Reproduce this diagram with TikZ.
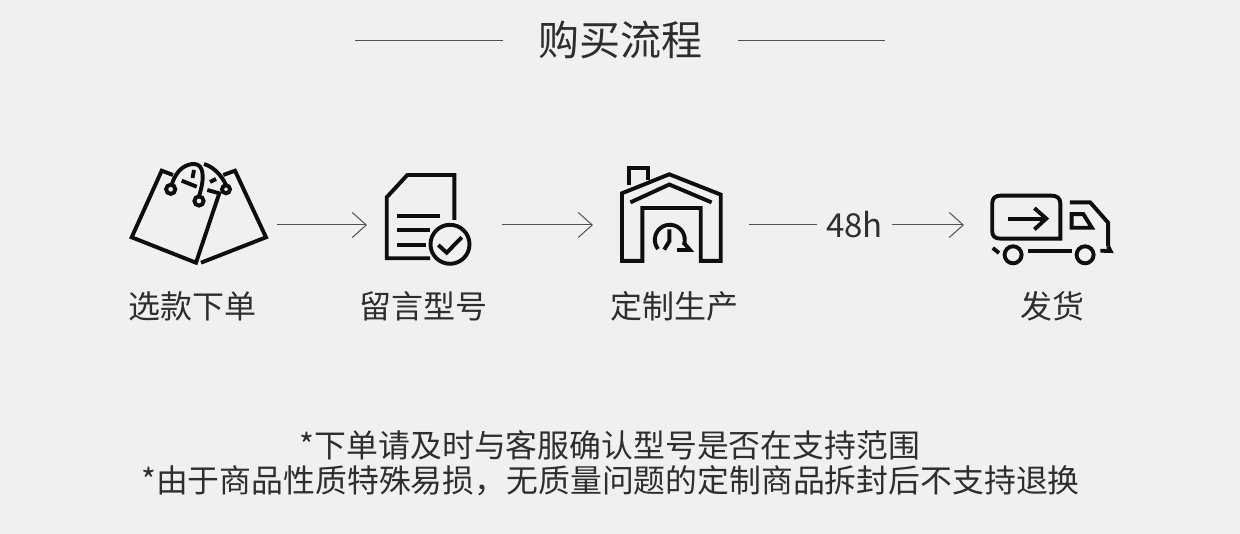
\documentclass[tikz,border=0pt]{standalone}
\usepackage{fontspec}
\setmainfont{Noto Sans CJK SC}
\usetikzlibrary{arrows.meta}
\definecolor{paper}{HTML}{F0F0F0}
\definecolor{ink}{HTML}{0E0E0E}
\definecolor{textgrey}{HTML}{2E2E2E}
\definecolor{rulegrey}{HTML}{505050}
\tikzset{
    iconspot/.style={minimum width=#1,minimum height=2pt,inner sep=0pt,outer sep=0pt},
    iconline/.style={draw=ink,line width=3.9pt,line join=miter},
    flow/.style={draw=rulegrey,line width=1pt,-{Straight Barb[length=14pt,width=25pt,line width=1pt]}},
    rule/.style={draw=rulegrey,line width=1pt},
    steplabel/.style={text=textgrey,font=\fontsize{32}{38}\selectfont,inner sep=0pt},
    notelabel/.style={text=textgrey,font=\fontsize{31.85}{38}\selectfont,inner sep=0pt},
}
\begin{document}
\begin{tikzpicture}[x=1pt,y=-1pt]
    \useasboundingbox[fill=paper] (0,0) rectangle (1240,534);

    \node[text=textgrey,font=\fontsize{41}{48}\selectfont,inner sep=0pt,minimum width=234pt] at (620.5,40) (title) {购买流程};
    \coordinate (ruleL) at (355,41);
    \coordinate (ruleR) at (885,41);
    \draw[rule] (ruleL) -- (title.west |- ruleL);
    \draw[rule] (title.east |- ruleR) -- (ruleR);

    \node[iconspot=158pt] at (198,225) (bag) {};
    \node[iconspot=135pt] at (434.5,225) (doc) {};
    \node[iconspot=156pt] at (671,225) (factory) {};
    \node[iconspot=176pt] at (1052,225) (truck) {};
    \node[text=textgrey,font=\fontsize{33}{38}\selectfont,inner sep=0pt,minimum width=75pt] at (854.5,225) (hours) {48h};

    \draw[flow] (bag) -- (doc);
    \draw[flow] (doc) -- (factory);
    \draw[rule] (factory) -- (hours);
    \draw[flow] (hours) -- (truck);

    \draw[iconline] (173,175) -- (161.7,170.7) -- (131.7,237.3) -- (196,262.7) -- (219.3,193.3) -- (207.3,190);
    \draw[iconline] (181.7,180.7) -- (196.7,186.7);
    \draw[iconline] (223.3,175) -- (235,170.7) -- (266,237.3) -- (201,262.7);
    \draw[iconline] (172,184) .. controls (177,168) and (187,164) .. (194,164) .. controls (204,164) and (205,178) .. (199,196);
    \draw[iconline] (204,164) .. controls (214,167) and (222,176) .. (226,185);
    \draw[iconline] (194,170) -- (192.5,178);
    \draw[iconline] (210,182) -- (216,179);
    \draw[iconline] (170.7,189.3) circle (4.6);
    \draw[iconline] (199,201) circle (4.6);
    \draw[iconline] (226,189.3) circle (4);

    \draw[iconline] (454.3,220) -- (454.3,175) -- (407.3,175) -- (386.7,197.3) -- (386.7,258.3) -- (430,258.3);
    \draw[iconline] (396.7,215.7) -- (440,215.7);
    \draw[iconline] (396.7,230) -- (430,230);
    \draw[iconline] (396.7,245) -- (426,245);
    \draw[iconline] (450,244.3) circle (19.5);
    \draw[iconline] (438.3,245) -- (446.7,252.7) -- (461.7,237.3);

    \draw[iconline] (628.7,185.5) -- (628.7,167.6) -- (648,167.6) -- (648,180.4);
    \draw[iconline] (622,193.3) -- (669.3,174.3) -- (720.7,194.6) -- (720.7,260.9) -- (700.7,260.9) -- (700.7,208) -- (642.3,208) -- (642.3,260.9) -- (622,260.9) -- cycle;
    \draw[iconline] (630.4,202.4) -- (669.3,184.5) -- (711.6,202.4);
    \draw[iconline] (658,249) arc (142:380:15);
    \draw[iconline] (669.3,229.4) -- (669.3,241.3) -- (664.2,249.7);
    \draw[iconline] (677,250) -- (690,250) -- (684,243);

    \draw[iconline] (1060.4,238.6) -- (1000,238.6) .. controls (995,238.6) and (992.2,236) .. (992.2,231) -- (992.2,204) .. controls (992.2,198) and (995,195.6) .. (1001,195.6) -- (1051,195.6) .. controls (1057,195.6) and (1060.4,198) .. (1060.4,204) -- cycle;
    \draw[iconline] (1008,218.6) -- (1046.2,218.6);
    \draw[iconline] (1034.4,208.1) -- (1046.2,218.6) -- (1034.4,229.4);
    \draw[iconline] (1069.9,202.4) -- (1090.2,202.4) -- (1108.1,222.7) -- (1108.1,246.3);
    \draw[iconline] (1108.1,246.3) -- (1110.5,251) -- (1100.3,250.7);
    \draw[iconline] (1071.6,214.2) -- (1083.4,214.2) -- (1091.9,227.8) -- (1071.6,227.8) -- cycle;
    \draw[iconline] (1013.1,254.8) circle (8.5);
    \draw[iconline] (1085.1,254.8) circle (8.5);
    \draw[iconline] (1027.7,250.7) -- (1071.6,250.7);
    \draw[iconline] (992.8,248) -- (999,253);

    \node[steplabel] at (192,306) (stepA) {选款下单};
    \node[steplabel] at (423,306) (stepB) {留言型号};
    \node[steplabel] at (674,306) (stepC) {定制生产};
    \node[steplabel] at (1052,306) (stepD) {发货};

    \node[notelabel] at (610,445) (noteA) {*下单请及时与客服确认型号是否在支持范围};
    \node[notelabel] at (610.5,481) (noteB) {*由于商品性质特殊易损，无质量问题的定制商品拆封后不支持退换};
\end{tikzpicture}
\end{document}
